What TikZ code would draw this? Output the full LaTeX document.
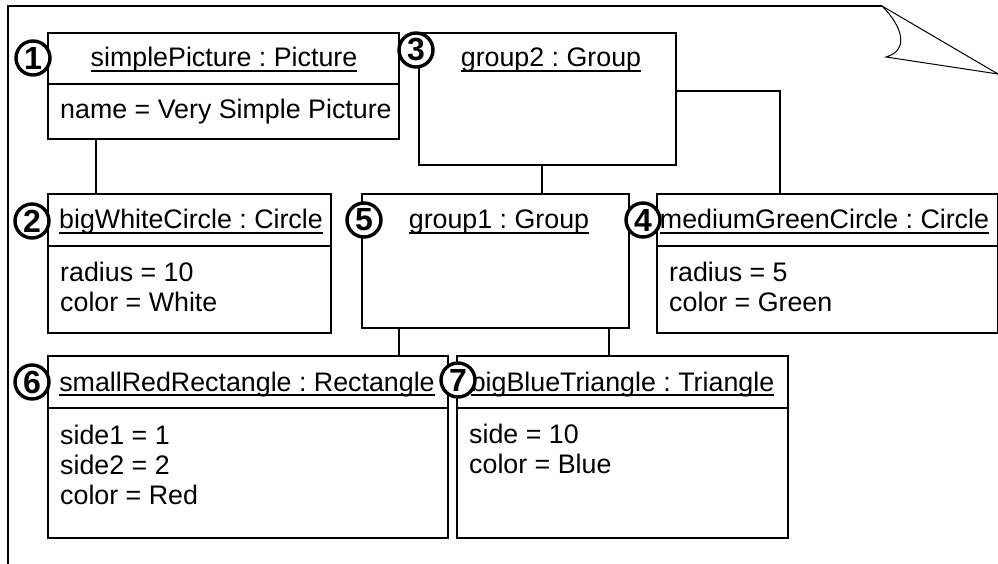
\documentclass[tikz,border=0pt]{standalone}
\usepackage{fontspec}
\setmainfont{Liberation Sans}
\frenchspacing
\newcommand\ulx[1]{\setbox0\hbox{#1}\rlap{\rule[-4.8pt]{\wd0}{1.9pt}}\box0}
\tikzset{
  objbox/.style={draw, line width=2pt, inner sep=0pt, anchor=north west, fill=white},
  hdr/.style={anchor=base, inner sep=0pt, font=\fontsize{26.8}{30}\selectfont},
  attr/.style={anchor=base west, inner sep=0pt, font=\fontsize{26.8}{30}\selectfont},
  conn/.style={line width=2pt},
  num/.style={circle, draw, line width=3.4pt, fill=white, minimum size=34pt, inner sep=0pt, font=\fontsize{32}{32}\selectfont\bfseries},
  frame/.style={line width=1.4pt},
  fold/.style={line width=1pt}
}
\begin{document}
\begin{tikzpicture}[x=1pt,y=-1pt]
\useasboundingbox (0,0) rectangle (998,564);
% page frame with folded corner
\coordinate (fa) at (8,570);
\coordinate (fb) at (8,6);
\coordinate (fc) at (882,6);
\coordinate (fd) at (998,74);
\coordinate (fe) at (886,57);
\draw[frame] (fa) -- (fb) -- (fc);
\draw[fold] (fc) -- (fd);
\draw[fold] (fc) .. controls (902,26) and (910,50) .. (fe) -- (fd);
% boxes
\node[objbox, minimum width=351pt, minimum height=106pt] (b1) at (47,32) {};
\node[objbox, minimum width=283pt, minimum height=139pt] (b2) at (47,193) {};
\node[objbox, minimum width=257pt, minimum height=132pt] (b3) at (418,32) {};
\node[objbox, minimum width=341pt, minimum height=139pt] (b4) at (656,193) {};
\node[objbox, minimum width=267pt, minimum height=134pt] (b5) at (361,193) {};
\node[objbox, minimum width=400pt, minimum height=182pt] (b6) at (47,355) {};
\node[objbox, minimum width=331pt, minimum height=182pt] (b7) at (456,355) {};
% dividers
\draw[conn] (b1.west |- 0,84) -- (b1.east |- 0,84);
\draw[conn] (b2.west |- 0,246) -- (b2.east |- 0,246);
\draw[conn] (b4.west |- 0,246) -- (b4.east |- 0,246);
\draw[conn] (b6.west |- 0,408) -- (b6.east |- 0,408);
\draw[conn] (b7.west |- 0,408) -- (b7.east |- 0,408);
% headers
\node[hdr] (h1) at (224,67) {\ulx{simplePicture : Picture}};
\node[hdr] (h2) at (191,229) {\ulx{bigWhiteCircle : Circle}};
\node[hdr] (h3) at (551,67) {\ulx{group2 : Group}};
\node[hdr] (h4) at (824.5,229) {\ulx{mediumGreenCircle : Circle}};
\node[hdr] (h5) at (499,229) {\ulx{group1 : Group}};
\node[hdr] (h6) at (247,391) {\ulx{smallRedRectangle : Rectangle}};
\node[hdr] (h7) at (622.5,391) {\ulx{bigBlueTriangle : Triangle}};
% attributes
\node[attr] (a11) at (60,119) {name = Very Simple Picture};
\node[attr] (a21) at (60,281) {radius = 10};
\node[attr] (a22) at (60,311) {color = White};
\node[attr] (a41) at (669,281) {radius = 5};
\node[attr] (a42) at (669,311) {color = Green};
\node[attr] (a61) at (60,444) {side1 = 1};
\node[attr] (a62) at (60,474) {side2 = 2};
\node[attr] (a63) at (60,504) {color = Red};
\node[attr] (a71) at (469,443) {side = 10};
\node[attr] (a72) at (469,473) {color = Blue};
% connectors
\draw[conn] (b1.south -| 96,0) -- (b2.north -| 96,0);
\draw[conn] (b3.south -| 542,0) -- (b5.north -| 542,0);
\draw[conn] (b3.east |- 0,91) -| (b4.north -| 780,0);
\draw[conn] (b5.south -| 399,0) -- (b6.north -| 399,0);
\draw[conn] (b5.south -| 609,0) -- (b7.north -| 609,0);
% number circles
\node[num] (n1) at (33,58) {1};
\node[num] (n2) at (32,221) {2};
\node[num] (n3) at (416,50) {3};
\node[num] (n4) at (643,220) {4};
\node[num] (n5) at (364,220) {5};
\node[num] (n6) at (32,382) {6};
\node[num] (n7) at (458,380) {7};
\end{tikzpicture}
\end{document}
